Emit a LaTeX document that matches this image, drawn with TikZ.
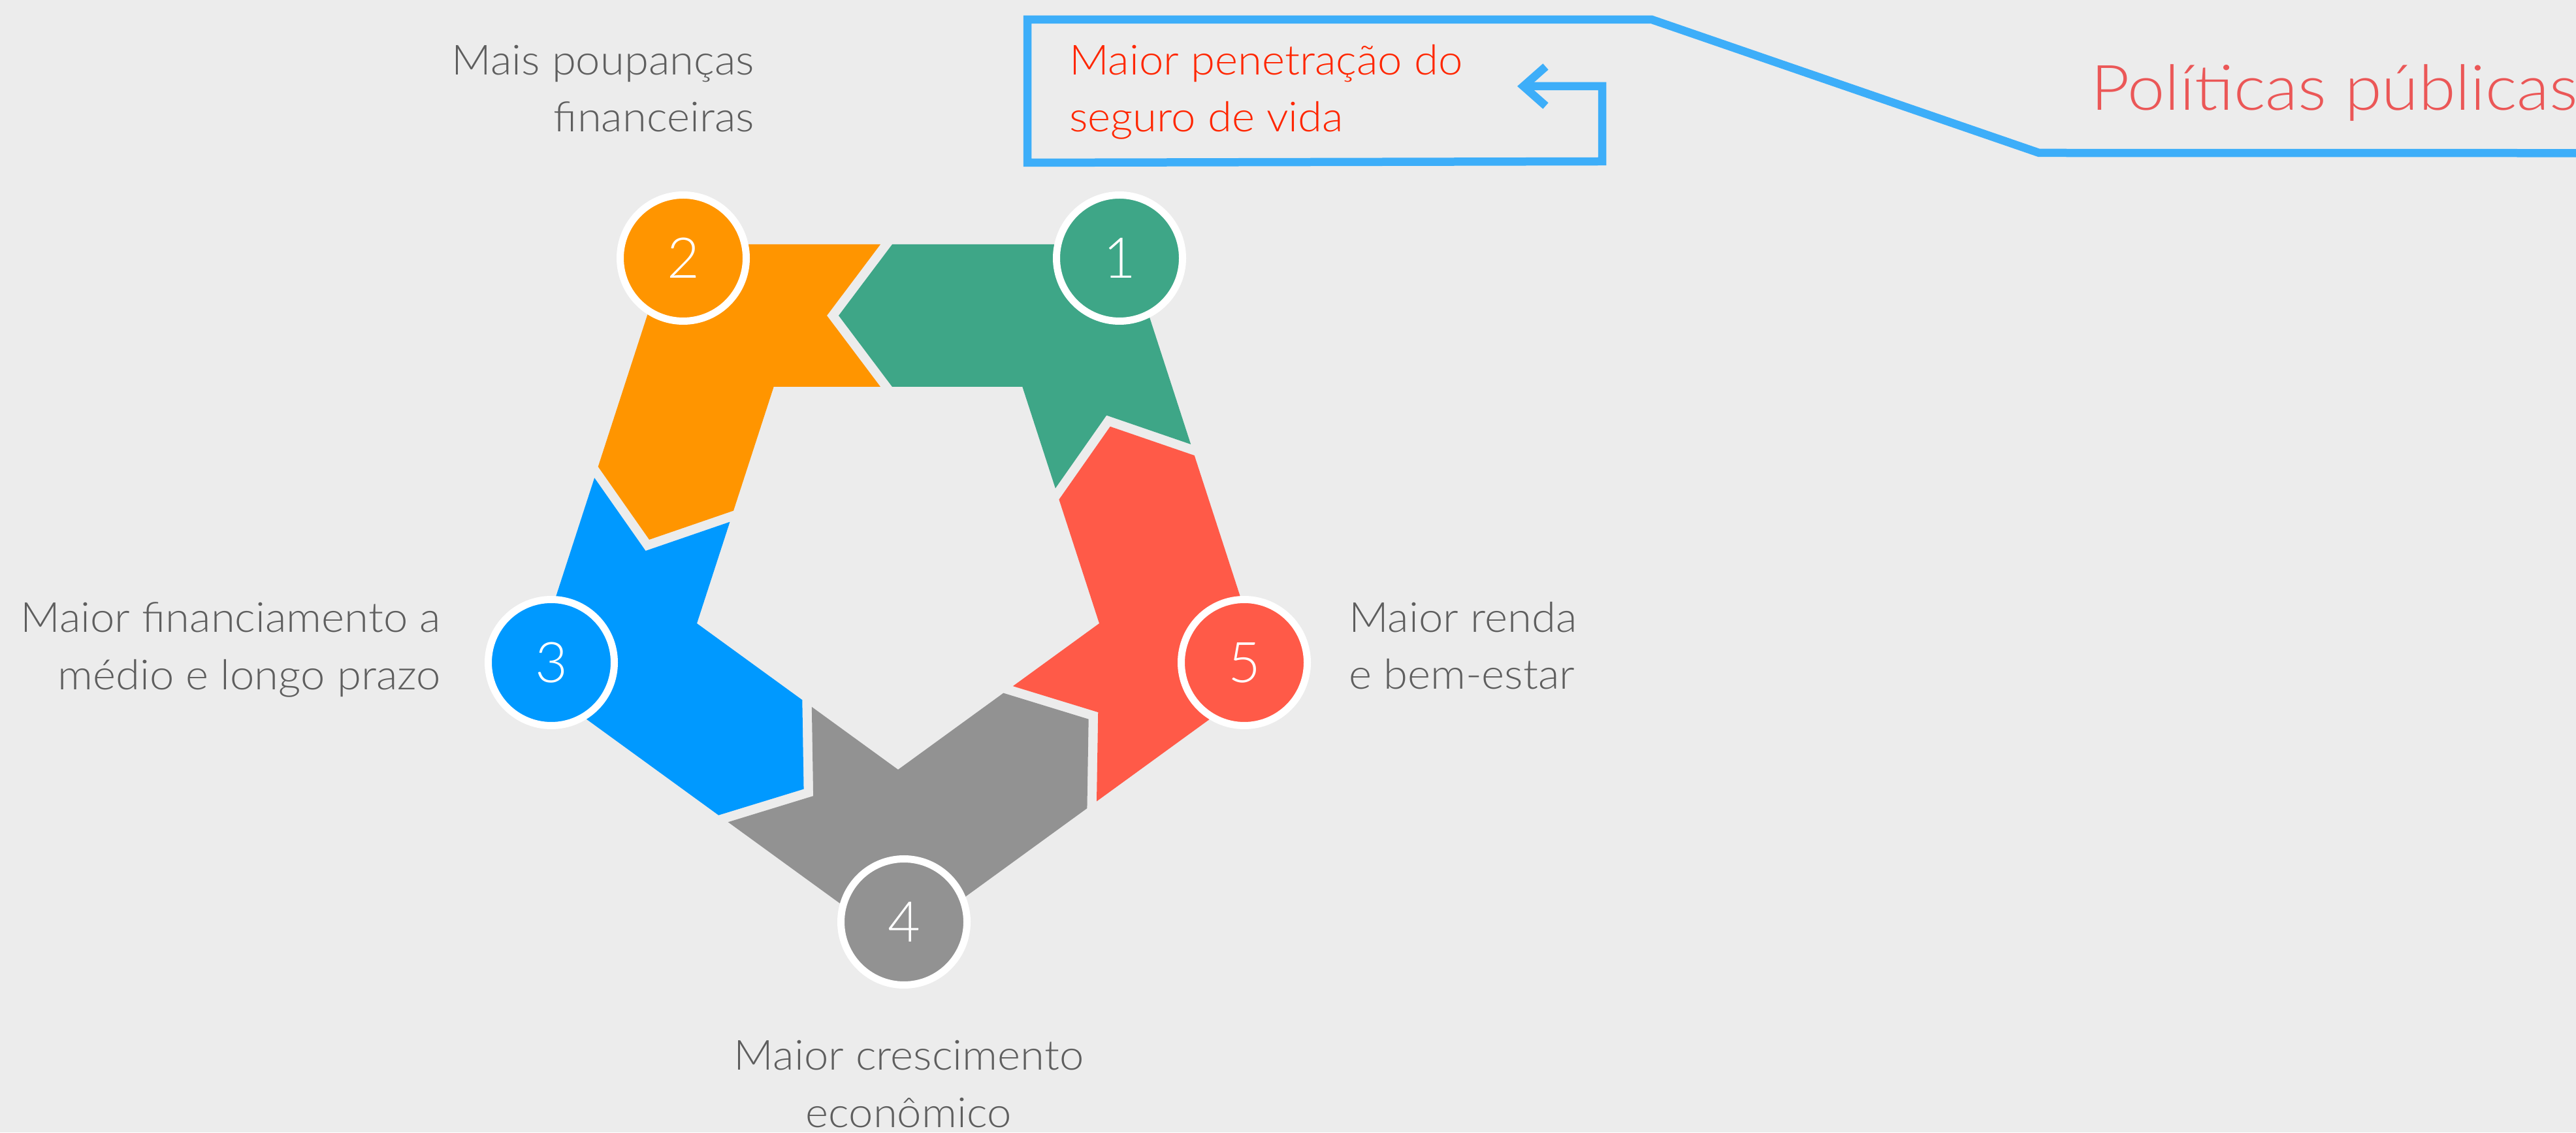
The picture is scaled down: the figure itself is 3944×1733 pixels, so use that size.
\documentclass[tikz,border=0pt]{standalone}
\usepackage{fontspec}
\usepackage{graphicx}
\setmainfont{Lato Light}
\usetikzlibrary{arrows.meta}
\definecolor{bg}{HTML}{ECECEC}
\definecolor{cgreen}{HTML}{3EA687}
\definecolor{corange}{HTML}{FF9500}
\definecolor{cblue}{HTML}{0099FF}
\definecolor{cgray}{HTML}{929292}
\definecolor{cred}{HTML}{FF5A48}
\definecolor{labelgray}{HTML}{5E5E5E}
\definecolor{redtext}{HTML}{FF2600}
\definecolor{pinktext}{HTML}{EB5757}
\definecolor{calloutblue}{HTML}{3DAEF9}
\newcommand{\wtext}[1]{\scalebox{1.055}[1]{#1}}
\begin{document}
\begin{tikzpicture}[x=1pt,y=1pt,
  lbl/.style={inner sep=0pt, text=labelgray, font=\fontsize{63.5}{88}\selectfont},
  numc/.style={circle, fill=#1, draw=white, line width=11pt, minimum size=193pt,
    inner sep=0pt, text=white, font=\fontsize{86}{86}\selectfont},
  callout/.style={draw=calloutblue, line width=12.5pt, line join=miter}
]
\useasboundingbox[fill=bg] (0,0) rectangle (3944,1733);
% ring pieces
\foreach \ang/\col in {0/cgreen,72/corange,144/cblue,216/cgray,288/cred}{
  \fill[\col, shift={(1375,879)}, rotate=\ang]
    (-9,480) -- (-91,371) -- (-9,262) -- (190.35,262) -- (240.84,106.64)
    -- (319.16,218.32) -- (448.17,174.01) -- (348.74,480) -- cycle;
}
% numbered circles
\node[numc=cgreen]  (c1) at (1714,1338) {1};
\node[numc=corange] (c2) at (1046,1338) {2};
\node[numc=cblue]   (c3) at (844,719)   {3};
\node[numc=cgray]   (c4) at (1384,322)  {4};
\node[numc=cred]    (c5) at (1905,719)  {5};
% labels
\node[lbl, anchor=base east] (t2a) at (1155,1618.7) {\wtext{Mais poupanças}};
\node[lbl, anchor=base east] (t2b) at (1155,1531.3) {\wtext{financeiras}};
\node[lbl, anchor=base west, text=redtext] (t1a) at (1637,1618.7) {\wtext{Maior penetração do}};
\node[lbl, anchor=base west, text=redtext] (t1b) at (1637,1531.3) {\wtext{seguro de vida}};
\node[lbl, anchor=base east] (t3a) at (675,765.7) {\wtext{Maior financiamento a}};
\node[lbl, anchor=base east] (t3b) at (675,677.3) {\wtext{médio e longo prazo}};
\node[lbl, anchor=base west] (t5a) at (2065,765.7) {\wtext{Maior renda}};
\node[lbl, anchor=base west] (t5b) at (2065,678) {\wtext{e bem-estar}};
\node[lbl, anchor=base] (t4a) at (1391.5,95.7) {\wtext{Maior crescimento}};
\node[lbl, anchor=base] (t4b) at (1391,8) {\wtext{econômico}};
\node[inner sep=0pt, anchor=base west, text=pinktext, font=\fontsize{96}{96}\selectfont]
  (pol) at (3201,1564) {\scalebox{1.07}[1]{Políticas públicas}};
% callout connector
\coordinate (k0) at (3950,1498.7);
\coordinate (k1) at (3122,1499);
\coordinate (k2) at (2529,1703);
\coordinate (k3) at (1573,1703);
\coordinate (k4) at (1573,1484);
\coordinate (k5) at (2453,1486);
\coordinate (k6) at (2453,1601);
\coordinate (k7) at (2323,1601);
\draw[callout, -{Straight Barb[length=34pt,width=60pt]}]
  (k0) -- (k1) -- (k2) -- (k3) -- (k4) -- (k5) -- (k6) -- (k7);
\end{tikzpicture}
\end{document}
